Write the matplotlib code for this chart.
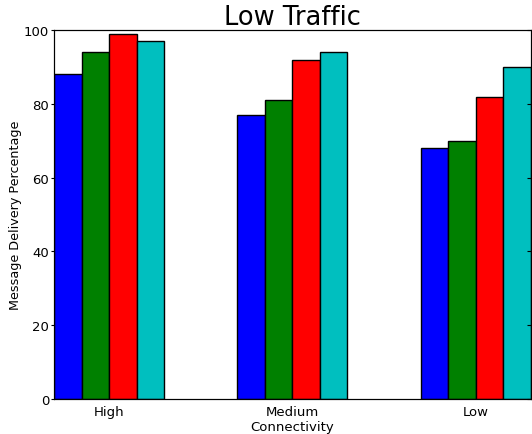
import numpy as np
import matplotlib
matplotlib.use('Agg')
import matplotlib.pyplot as plt

# connectivity levels and delivery percentages for each of the 4 series
levels = ['High', 'Medium', 'Low']
series_a = [88, 77, 68]
series_b = [94, 81, 70]
series_c = [99, 92, 82]
series_d = [97, 94, 90]

colors = ['b', 'g', 'r', 'c']
width = 0.15

fig = plt.figure(figsize=(5.32, 4.35), dpi=100)
ax = fig.add_axes([0.1015, 0.0805, 0.8965, 0.848])

ind = np.arange(len(levels))
for i, vals in enumerate([series_a, series_b, series_c, series_d]):
    ax.bar(ind + i * width, vals, width, align='edge', color=colors[i],
           edgecolor='black', linewidth=1.0)

ax.set_xlim(0, ind[-1] + 4 * width)
ax.set_ylim(0, 100)
ax.set_xticks(ind + 2 * width)
ax.set_xticklabels(levels)
ax.set_yticks(np.arange(0, 101, 20))
ax.tick_params(axis='x', length=0, labelsize=9.5, pad=4)
ax.tick_params(axis='y', which='both', labelsize=9.5, length=2.5, pad=1,
               direction='out', right=False)
# small inward ticks on the right spine
ax2 = ax.twinx()
ax2.set_ylim(0, 100)
ax2.set_yticks(np.arange(0, 101, 20))
ax2.tick_params(axis='y', direction='in', length=3, labelright=False)

ax.set_xlabel('Connectivity', fontsize=9.5)
ax.set_ylabel('Message Delivery Percentage', fontsize=9.2)
ax.yaxis.set_label_coords(-0.068, 0.5)
ax.xaxis.set_label_coords(0.5, -0.056)
ax.set_title('Low Traffic', fontsize=18.5, pad=3)

fig.savefig('out.png', dpi=100)
